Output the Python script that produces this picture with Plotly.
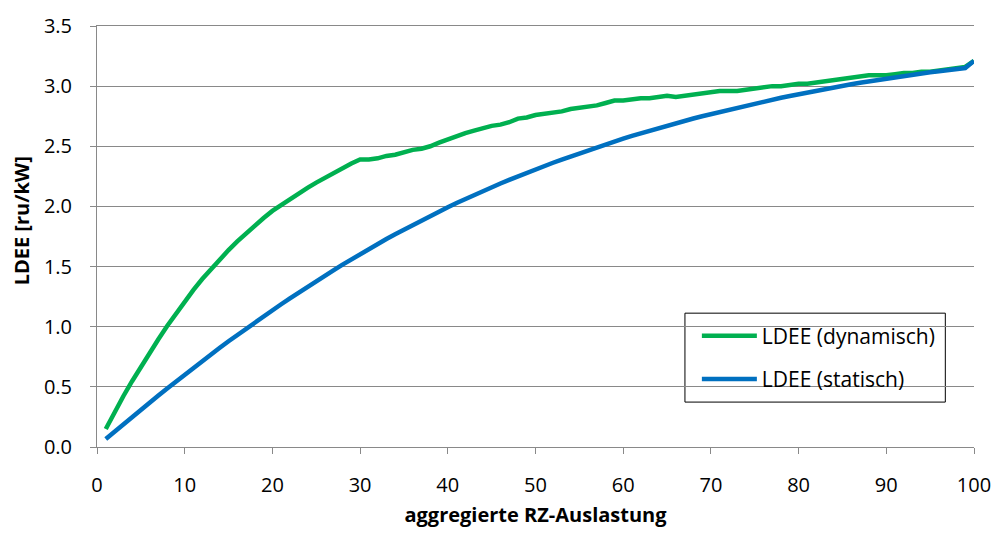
import plotly.graph_objects as go

x_vals = list(range(1, 101))

ldee_dynamisch = [
    0.150, 0.290, 0.422, 0.547, 0.667, 0.783, 0.896, 1.006, 1.111, 1.211,
    1.306, 1.396, 1.481, 1.561, 1.637, 1.709, 1.777, 1.842, 1.904, 1.963,
    2.013, 2.060, 2.108, 2.154, 2.198, 2.240, 2.281, 2.320, 2.357, 2.390,
    2.390, 2.400, 2.420, 2.430, 2.450, 2.470, 2.480, 2.500, 2.530, 2.560,
    2.580, 2.610, 2.630, 2.650, 2.670, 2.680, 2.700, 2.730, 2.740, 2.760,
    2.770, 2.780, 2.790, 2.810, 2.820, 2.830, 2.840, 2.860, 2.880, 2.880,
    2.890, 2.900, 2.900, 2.910, 2.920, 2.910, 2.920, 2.930, 2.940, 2.950,
    2.960, 2.960, 2.960, 2.970, 2.980, 2.990, 3.000, 3.000, 3.010, 3.020,
    3.020, 3.030, 3.040, 3.050, 3.060, 3.070, 3.080, 3.090, 3.090, 3.090,
    3.100, 3.110, 3.110, 3.120, 3.120, 3.130, 3.140, 3.150, 3.160, 3.210,
]

ldee_statisch = [
    0.067, 0.129, 0.190, 0.250, 0.310, 0.370, 0.429, 0.487, 0.545, 0.602,
    0.659, 0.715, 0.770, 0.825, 0.879, 0.932, 0.984, 1.036, 1.087, 1.138,
    1.187, 1.236, 1.285, 1.332, 1.379, 1.425, 1.471, 1.516, 1.560, 1.603,
    1.646, 1.688, 1.729, 1.769, 1.808, 1.847, 1.885, 1.922, 1.958, 1.993,
    2.028, 2.062, 2.095, 2.128, 2.160, 2.191, 2.221, 2.251, 2.280, 2.308,
    2.336, 2.363, 2.390, 2.416, 2.442, 2.467, 2.492, 2.516, 2.540, 2.563,
    2.586, 2.608, 2.630, 2.651, 2.672, 2.692, 2.712, 2.731, 2.750, 2.768,
    2.786, 2.804, 2.821, 2.838, 2.855, 2.871, 2.887, 2.903, 2.918, 2.933,
    2.948, 2.962, 2.976, 2.990, 3.003, 3.016, 3.028, 3.040, 3.052, 3.063,
    3.074, 3.085, 3.095, 3.105, 3.115, 3.124, 3.133, 3.142, 3.150, 3.210,
]

x_ticks = list(range(0, 101, 10))
y_ticks = [0.0, 0.5, 1.0, 1.5, 2.0, 2.5, 3.0, 3.5]

font_family = "Open Sans, Noto Sans, sans-serif"
grey = "#898989"

fig = go.Figure()
fig.add_trace(go.Scatter(
    x=x_vals, y=ldee_dynamisch, mode="lines", name="LDEE (dynamisch)",
    line=dict(color="#00B050", width=4.5), legendgroup="a",
))
fig.add_trace(go.Scatter(
    x=x_vals, y=ldee_statisch, mode="lines", name="LDEE (statisch)",
    line=dict(color="#0070C0", width=4.5), legendgroup="b",
))

fig.update_layout(
    width=1003, height=534,
    margin=dict(l=97, r=20, t=21, b=82),
    paper_bgcolor="white", plot_bgcolor="white",
    font=dict(family=font_family, size=20, color="#000000"),
    showlegend=True,
    legend=dict(
        x=0.684, y=0.312, xanchor="left", yanchor="top",
        bgcolor="rgba(0,0,0,0)", borderwidth=0,
        font=dict(size=21), tracegroupgap=13, traceorder="grouped",
        itemwidth=55,
    ),
    shapes=[dict(
        type="rect", xref="paper", yref="paper",
        x0=0.6704, x1=0.9673, y0=0.1067, y1=0.3179,
        line=dict(color="#000000", width=1), fillcolor="white", layer="between",
    )],
    xaxis=dict(
        range=[0, 100], tickvals=x_ticks, ticks="outside", ticklen=6,
        tickcolor=grey, showline=True, linecolor=grey, linewidth=1, mirror=True,
        showgrid=False, zeroline=False, ticklabelstandoff=14,
        title=dict(text="<b>aggregierte RZ-Auslastung</b>", font=dict(size=20), standoff=10),
    ),
    yaxis=dict(
        range=[0, 3.5], tickvals=y_ticks, tickformat=".1f", ticks="outside", ticklen=6,
        tickcolor=grey, showline=True, linecolor=grey, linewidth=1,
        showgrid=True, gridcolor=grey, gridwidth=1, zeroline=False,
        ticklabelstandoff=14, ticklabeloverflow="allow",
    ),
    annotations=[dict(
        text="<b>LDEE [ru/kW]</b>", textangle=-90, showarrow=False,
        xref="paper", yref="paper", x=0, y=0.536, xanchor="center", yanchor="middle",
        xshift=-76, font=dict(size=20),
    )],
)

fig.write_html(
    "out.html",
    config={"displayModeBar": False},
    post_script="document.body.style.margin='0';document.body.style.overflow='hidden';",
)
